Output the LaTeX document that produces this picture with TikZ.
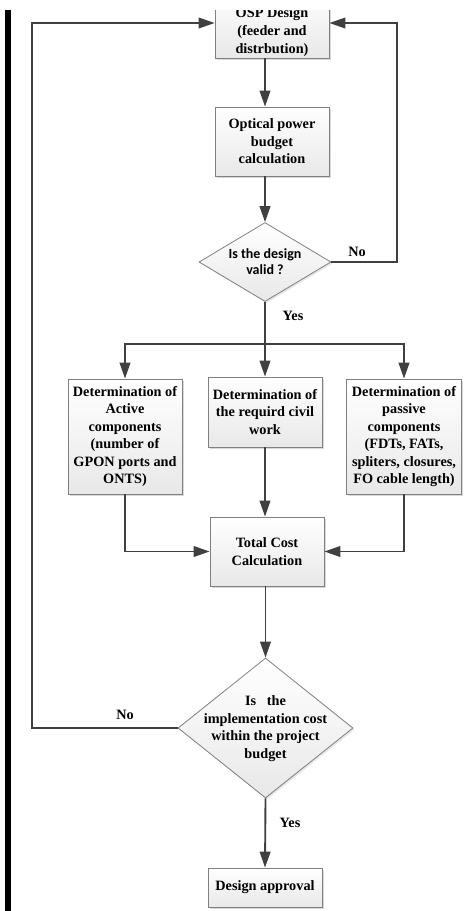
\documentclass[tikz,border=0pt]{standalone}
\usepackage{fontspec}
\setmainfont{Liberation Serif}
\newfontfamily\calibrifont{Carlito}
\usetikzlibrary{arrows.meta,shapes.geometric,shadows}

\tikzset{
  box/.style={draw=black!50, line width=0.6pt, top color=white, bottom color=black!9,
    drop shadow={shadow xshift=1.2pt, shadow yshift=-1.2pt, opacity=0.3},
    align=center, inner sep=0.5pt, font=\bfseries\fontsize{10.7}{13.1}\selectfont},
  decision/.style={diamond, draw=black!50, line width=0.6pt, top color=white, bottom color=black!9,
    drop shadow={shadow xshift=1.2pt, shadow yshift=-1.2pt, opacity=0.2}, inner sep=0pt},
  txt/.style={align=center, font=\bfseries\fontsize{10.7}{13.3}\selectfont},
  arr/.style={-{Triangle[length=12pt,width=8pt]}, line width=1.4pt, draw=black!75},
  lbl/.style={font=\bfseries\fontsize{10.7}{12}\selectfont}
}

\begin{document}
\begin{tikzpicture}[x=0.75pt,y=-0.75pt]
\useasboundingbox (0,0) rectangle (465,911);
\clip (0,10) rectangle (465,911);
% Left bar
\draw[line width=4.5pt] (8,10) -- (8,911);
% Boxes
\node[box, minimum width=85.5pt, minimum height=52.5pt] (osp) at (272,23) {};
\node[txt] (osptext) at (272,32) {OSP Design\\(feeder and\\distrbution)};
\node[box, minimum width=85.5pt, minimum height=51.75pt] (opt) at (272,141.5) {Optical power\\budget\\calculation};
\node[decision, minimum width=99pt, minimum height=59.25pt] (dia1) at (265,262) {};
\node[align=center, font=\calibrifont\bfseries\fontsize{10.5}{12}\selectfont] (dia1text) at (265,262) {Is the design\\valid ?};
\node[box, minimum width=85.5pt, minimum height=86.25pt] (act) at (125,436.5) {Determination of\\Active\\components\\(number of\\GPON ports and\\ONTS)};
\node[box, minimum width=85.5pt, minimum height=52.5pt] (civ) at (265,412) {Determination of\\the requird civil\\work};
\node[box, minimum width=86.25pt, minimum height=86.25pt] (pas) at (404,436.5) {Determination of\\passive\\components\\(FDTs, FATs,\\spliters, closures,\\FO cable length)};
\node[box, minimum width=85.5pt, minimum height=51.75pt] (tot) at (267,551.5) {Total Cost\\Calculation};
\node[decision, minimum width=131.25pt, minimum height=105pt] (dia2) at (265.5,728) {};
\node[txt] (dia2text) at (265.5,728.5) {Is~~~the\\implementation cost\\within the project\\budget};
\node[box, minimum width=85.5pt, minimum height=29.25pt] (app) at (265,887.5) {Design approval};
% Loop corners
\coordinate (rback) at (397,262);
\coordinate (lback) at (32,728);
\coordinate (split) at (265,344);
% Arrows
\draw[arr] (osp.south -| dia1.north) -- (opt.north -| dia1.north);
\draw[arr] (opt.south -| dia1.north) -- (dia1.north);
\draw[arr] (dia1.east) -- (rback) |- (osp.east);
\draw[arr] (dia1.south) -- (civ.north);
\draw[arr] (split) -| (act.north);
\draw[arr] (split) -| (pas.north);
\draw[arr] (act.south) |- (tot.west);
\draw[arr] (pas.south) |- (tot.east);
\draw[arr] (civ.south) -- (civ.south |- tot.north);
\draw[arr] (tot.south -| dia2.north) -- (dia2.north);
\draw[arr] (dia2.south) -- (app.north);
\draw[arr] (dia2.west) -- (lback) |- (osp.west);
% Labels
\node[lbl] (no1) at (357,252) {No};
\node[lbl] (yes1) at (293,316) {Yes};
\node[lbl] (no2) at (125,715) {No};
\node[lbl] (yes2) at (290,823) {Yes};
\end{tikzpicture}
\end{document}
